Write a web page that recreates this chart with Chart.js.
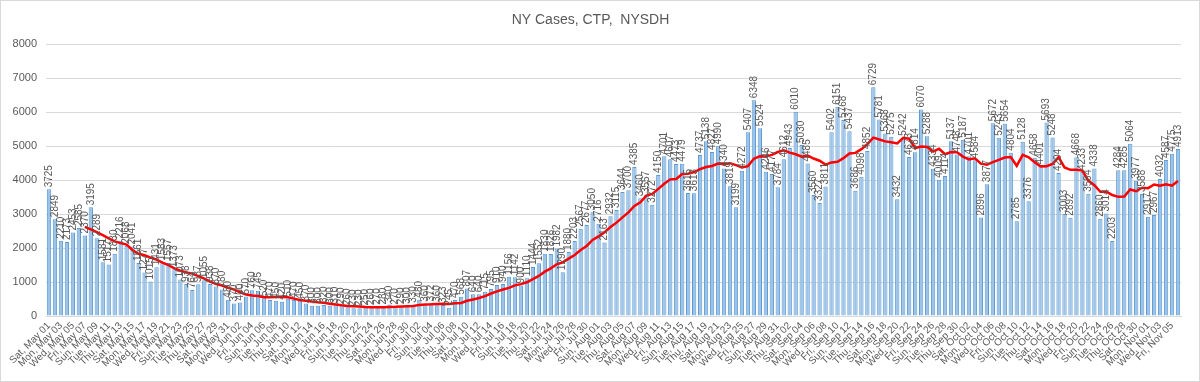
<!DOCTYPE html>
<html>
<head>
<meta charset="utf-8">
<script src="https://cdn.jsdelivr.net/npm/chart.js@4.4.1/dist/chart.umd.min.js"></script>
<style>
  html, body { margin: 0; padding: 0; background: #ffffff; }
  #wrap { width: 1200px; height: 382px; position: relative; }
</style>
</head>
<body>
<div id="wrap"><canvas id="c" width="1200" height="382"></canvas></div>
<script>
const categories = [
"Sat, May 01","Sun, May 02","Mon, May 03","Tue, May 04","Wed, May 05","Thu, May 06","Fri, May 07",
"Sat, May 08","Sun, May 09","Mon, May 10","Tue, May 11","Wed, May 12","Thu, May 13","Fri, May 14",
"Sat, May 15","Sun, May 16","Mon, May 17","Tue, May 18","Wed, May 19","Thu, May 20","Fri, May 21",
"Sat, May 22","Sun, May 23","Mon, May 24","Tue, May 25","Wed, May 26","Thu, May 27","Fri, May 28",
"Sat, May 29","Sun, May 30","Mon, May 31",
"Tue, Jun 01","Wed, Jun 02","Thu, Jun 03","Fri, Jun 04","Sat, Jun 05","Sun, Jun 06","Mon, Jun 07",
"Tue, Jun 08","Wed, Jun 09","Thu, Jun 10","Fri, Jun 11","Sat, Jun 12","Sun, Jun 13","Mon, Jun 14",
"Tue, Jun 15","Wed, Jun 16","Thu, Jun 17","Fri, Jun 18","Sat, Jun 19","Sun, Jun 20","Mon, Jun 21",
"Tue, Jun 22","Wed, Jun 23","Thu, Jun 24","Fri, Jun 25","Sat, Jun 26","Sun, Jun 27","Mon, Jun 28",
"Tue, Jun 29","Wed, Jun 30",
"Thu, Jul 01","Fri, Jul 02","Sat, Jul 03","Sun, Jul 04","Mon, Jul 05","Tue, Jul 06","Wed, Jul 07",
"Thu, Jul 08","Fri, Jul 09","Sat, Jul 10","Sun, Jul 11","Mon, Jul 12","Tue, Jul 13","Wed, Jul 14",
"Thu, Jul 15","Fri, Jul 16","Sat, Jul 17","Sun, Jul 18","Mon, Jul 19","Tue, Jul 20","Wed, Jul 21",
"Thu, Jul 22","Fri, Jul 23","Sat, Jul 24","Sun, Jul 25","Mon, Jul 26","Tue, Jul 27","Wed, Jul 28",
"Thu, Jul 29","Fri, Jul 30","Sat, Jul 31",
"Sun, Aug 01","Mon, Aug 02","Tue, Aug 03","Wed, Aug 04","Thu, Aug 05","Fri, Aug 06","Sat, Aug 07",
"Sun, Aug 08","Mon, Aug 09","Tue, Aug 10","Wed, Aug 11","Thu, Aug 12","Fri, Aug 13","Sat, Aug 14",
"Sun, Aug 15","Mon, Aug 16","Tue, Aug 17","Wed, Aug 18","Thu, Aug 19","Fri, Aug 20","Sat, Aug 21",
"Sun, Aug 22","Mon, Aug 23","Tue, Aug 24","Wed, Aug 25","Thu, Aug 26","Fri, Aug 27","Sat, Aug 28",
"Sun, Aug 29","Mon, Aug 30","Tue, Aug 31",
"Wed, Sep 01","Thu, Sep 02","Fri, Sep 03","Sat, Sep 04","Sun, Sep 05","Mon, Sep 06","Tue, Sep 07",
"Wed, Sep 08","Thu, Sep 09","Fri, Sep 10","Sat, Sep 11","Sun, Sep 12","Mon, Sep 13","Tue, Sep 14",
"Wed, Sep 15","Thu, Sep 16","Fri, Sep 17","Sat, Sep 18","Sun, Sep 19","Mon, Sep 20","Tue, Sep 21",
"Wed, Sep 22","Thu, Sep 23","Fri, Sep 24","Sat, Sep 25","Sun, Sep 26","Mon, Sep 27","Tue, Sep 28",
"Wed, Sep 29","Thu, Sep 30",
"Fri, Oct 01","Sat, Oct 02","Sun, Oct 03","Mon, Oct 04","Tue, Oct 05","Wed, Oct 06","Thu, Oct 07",
"Fri, Oct 08","Sat, Oct 09","Sun, Oct 10","Mon, Oct 11","Tue, Oct 12","Wed, Oct 13","Thu, Oct 14",
"Fri, Oct 15","Sat, Oct 16","Sun, Oct 17","Mon, Oct 18","Tue, Oct 19","Wed, Oct 20","Thu, Oct 21",
"Fri, Oct 22","Sat, Oct 23","Sun, Oct 24","Mon, Oct 25","Tue, Oct 26","Wed, Oct 27","Thu, Oct 28",
"Fri, Oct 29","Sat, Oct 30","Sun, Oct 31",
"Mon, Nov 01","Tue, Nov 02","Wed, Nov 03","Thu, Nov 04","Fri, Nov 05","Sat, Nov 06"
];

// daily cases
const casesMay = [3725,2849,2210,2173,2453,2585,2370,3195,2289,1581,1517,1830,2216,2068,2041,1561,1277,1015,1431,1583,1557,1373,1073,938,764,937,1055,938,870,780,480];
const casesJun = [370,400,570,760,745,520,470,450,420,510,470,450,370,300,300,320,300,310,290,260,230,230,250,260,270,280,340,270,290,300];
const casesJul = [330,480,360,372,360,323,245,470,568,807,640,640,715,795,910,940,1156,1142,900,1110,1444,1552,1830,1826,1982,1290,1880,2203,2567,2677,3050];
const casesAug = [2716,2163,2932,3115,3644,3700,4385,3460,3557,3272,4150,4701,4607,4473,4479,3615,3613,4737,5138,4827,4990,4340,3819,3199,4272,5407,6348,5524,4246,4177,3784];
const casesSep = [4612,4943,6010,5030,4485,3560,3327,3811,5402,6151,5768,5437,3686,4098,4852,6729,5781,5368,5275,3432,5242,4673,4814,6070,5288,4334,4009,4114,5137,4748];
const casesOct = [5187,4701,4584,2896,3877,5672,5243,5654,4804,2785,5128,3376,4658,4401,5693,5248,4204,3003,2892,4668,4233,3594,4338,2860,3014,2203,4284,4285,5064,3977,3588];
const casesNov = [2917,2967,4032,4587,4775,4913];

// 7-day average line
const avgMay = [null,null,null,null,null,null,2624,2548,2468,2378,2284,2195,2143,2099,1935,1831,1787,1715,1658,1568,1495,1400,1330,1281,1246,1175,1100,1011,939,897,832];
const avgJun = [776,699,630,604,586,549,548,559,562,554,512,470,449,424,403,389,359,336,313,297,287,277,267,261,256,254,266,271,280,287];
const avgJul = [297,327,339,343,356,361,353,373,385,449,488,528,584,662,725,778,828,900,937,993,1086,1178,1305,1401,1521,1576,1686,1795,1940,2061,2236];
const avgAug = [2340,2465,2615,2746,2900,3046,3236,3343,3542,3590,3738,3889,4019,4031,4177,4185,4234,4318,4380,4412,4486,4466,4495,4436,4369,4408,4625,4701,4688,4739,4823];
const avgSep = [4871,4805,4757,4686,4720,4632,4567,4452,4518,4538,4643,4779,4797,4908,5056,5246,5193,5136,5113,5076,5240,5214,4941,4982,4971,4836,4919,4757,4824,4814];
const avgOct = [4688,4604,4640,4481,4447,4524,4594,4661,4676,4419,4738,4666,4521,4401,4406,4470,4673,4369,4300,4301,4277,3977,3847,3655,3657,3559,3504,3511,3721,3670,3774];
const avgNov = [3760,3869,3833,3876,3835,3968];

const yTicks = [0,1000,2000,3000,4000,5000,6000,7000,8000];

const cases = [].concat(casesMay, casesJun, casesJul, casesAug, casesSep, casesOct, casesNov);
const avg7 = [].concat(avgMay, avgJun, avgJul, avgAug, avgSep, avgOct, avgNov);

const TEXT = '#595959';
const FONT = "'Liberation Sans', Arial, sans-serif";

const valueLabels = {
  id: 'valueLabels',
  afterDatasetsDraw(chart) {
    const meta = chart.getDatasetMeta(1);
    const ctx = chart.ctx;
    ctx.save();
    ctx.font = "10px " + FONT;
    ctx.fillStyle = TEXT;
    ctx.textAlign = 'left';
    ctx.textBaseline = 'middle';
    meta.data.forEach((el, i) => {
      const v = cases[i];
      ctx.save();
      ctx.translate(el.x, el.y - 2);
      ctx.rotate(-Math.PI / 2);
      ctx.fillText(String(v), 0, 0);
      ctx.restore();
    });
    ctx.restore();
  }
};

const frame = {
  id: 'frame',
  afterDraw(chart) {
    const ctx = chart.ctx;
    ctx.save();
    ctx.strokeStyle = '#d9d9d9';
    ctx.lineWidth = 1;
    ctx.strokeRect(0.5, 0.5, chart.width - 1, chart.height - 1);
    ctx.restore();
  }
};

new Chart(document.getElementById('c'), {
  type: 'bar',
  data: {
    labels: categories,
    datasets: [
      {
        type: 'line',
        label: '7-day average',
        data: avg7,
        borderColor: '#ff0000',
        borderWidth: 2.5,
        pointRadius: 0,
        fill: false,
        tension: 0,
        spanGaps: false,
        order: 0
      },
      {
        type: 'bar',
        label: 'NY Cases',
        data: cases,
        backgroundColor: '#9dc3e6',
        borderColor: '#5b9bd5',
        borderWidth: 1,
        barPercentage: 0.72,
        categoryPercentage: 1.0,
        order: 1
      }
    ]
  },
  options: {
    responsive: false,
    animation: false,
    devicePixelRatio: 1,
    layout: { padding: { top: 0, left: 0, right: 19, bottom: 0 } },
    plugins: {
      legend: { display: false },
      tooltip: { enabled: false },
      title: {
        display: true,
        text: 'NY Cases, CTP,  NYSDH',
        color: TEXT,
        font: { family: FONT, size: 14, weight: 'normal' },
        padding: { top: 12, bottom: 15.2 }
      }
    },
    scales: {
      x: {
        offset: true,
        grid: { display: false, drawTicks: false },
        border: { display: true, color: '#d9d9d9' },
        ticks: {
          autoSkip: false,
          minRotation: 45,
          maxRotation: 45,
          padding: 4,
          color: TEXT,
          font: { family: FONT, size: 10 },
          callback: function(value, index) { return index % 2 === 0 ? categories[index] : ''; }
        },
        afterFit(scale) { scale.height = 66; }
      },
      y: {
        min: 0,
        max: 8000,
        afterBuildTicks(scale) { scale.ticks = yTicks.map(v => ({ value: v })); },
        grid: { color: '#d9d9d9', drawTicks: false },
        border: { display: false },
        ticks: {
          padding: 9,
          color: TEXT,
          font: { family: FONT, size: 11 },
          callback: function(value) { return String(value); }
        },
        afterFit(scale) { scale.width = 46; }
      }
    }
  },
  plugins: [valueLabels, frame]
});
</script>
</body>
</html>
